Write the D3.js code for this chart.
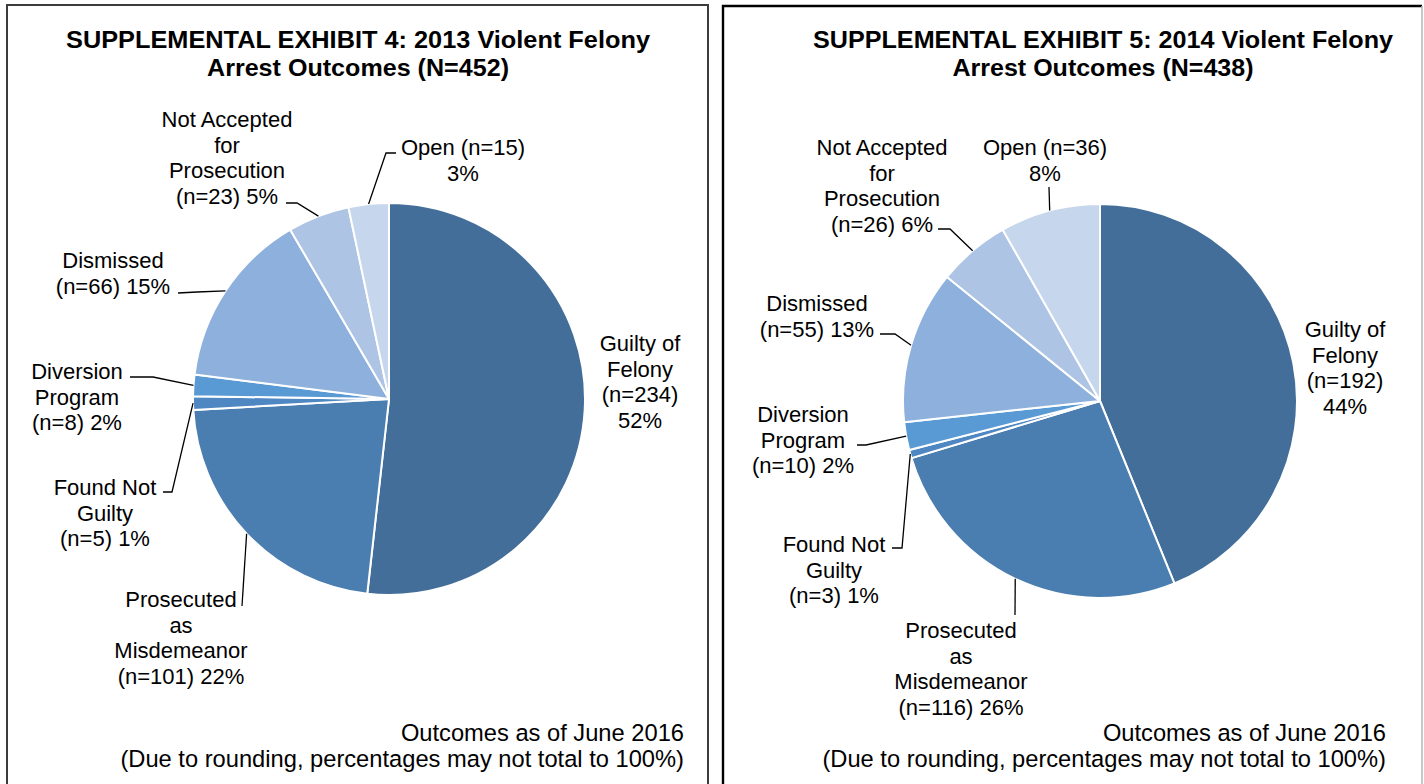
<!DOCTYPE html>
<html>
<head>
<meta charset="utf-8">
<script src="https://cdn.jsdelivr.net/npm/d3@7/dist/d3.min.js"></script>
<style>
  body { margin: 0; background: #fff; }
  text { font-family: "Liberation Sans", Arial, sans-serif; fill: #000; }
</style>
</head>
<body>
<svg id="chart" width="1424" height="784"></svg>
<script>
// Outcome categories, clockwise from 12 o'clock
const categories = ['Guilty of Felony', 'Prosecuted as Misdemeanor', 'Found Not Guilty',
  'Diversion Program', 'Dismissed', 'Not Accepted for Prosecution', 'Open'];
const labelNames = [['Guilty of', 'Felony'], ['Prosecuted', 'as', 'Misdemeanor'], ['Found Not', 'Guilty'],
  ['Diversion', 'Program'], ['Dismissed'], ['Not Accepted', 'for', 'Prosecution'], ['Open']];
const counts2013 = [234, 101, 5, 8, 66, 23, 15];
const counts2014 = [192, 116, 3, 10, 55, 26, 36];
const years = [2013, 2014];
const exhibitNumbers = [4, 5];
const footnotes = ['Outcomes as of June 2016', '(Due to rounding, percentages may not total to 100%)'];
const colors = ['#426e99', '#4a7db0', '#4f87c3', '#5a9ad4', '#8db0dc', '#adc4e5', '#c6d6ec'];

// layout for each panel (label centre x, first baseline, leader bend points)
const panels = [
  {
    counts: counts2013, cx: 389, cy: 399, r: 196, titleX: 358, titleW: [584, 302], footX: 684,
    labels: [
      {x: 640, y: 351, fmt: 'sep', leader: null},
      {x: 181, y: 607, fmt: 'join', leader: [[242, 606]]},
      {x: 105, y: 495, fmt: 'join', leader: [[172, 492], [163, 492]]},
      {x: 77, y: 379, fmt: 'join', leader: [[153, 377], [130, 377]]},
      {x: 113, y: 268, fmt: 'join', leader: [[197, 292], [178, 293]]},
      {x: 227, y: 127, fmt: 'join', leader: [[297, 203], [286, 203]]},
      {x: 463, y: 155, fmt: 'open', leader: [[386, 153], [396, 153]]}
    ]
  },
  {
    counts: counts2014, cx: 1100, cy: 401, r: 197, titleX: 1103, titleW: [580, 301], footX: 1386,
    labels: [
      {x: 1345, y: 337, fmt: 'sep', leader: null},
      {x: 961, y: 638, fmt: 'join', leader: [[1015, 615]]},
      {x: 834, y: 552, fmt: 'join', leader: [[902, 548], [892, 548]]},
      {x: 803, y: 422, fmt: 'join', leader: [[866, 445], [857, 445]]},
      {x: 817, y: 311, fmt: 'join', leader: [[895, 334], [880, 334]]},
      {x: 882, y: 155, fmt: 'join', leader: [[950, 229], [938, 229]]},
      {x: 1045, y: 155, fmt: 'open', leader: [[1049, 187]]}
    ]
  }
];

const svg = d3.select('#chart');
const lineH = 25.6;

// panel frames
svg.append('path').attr('d', 'M7,784V5H708V784').attr('fill', 'none')
    .attr('stroke', '#3c3c3c').attr('stroke-width', 2);
svg.append('path').attr('d', 'M723,784V6H1422').attr('fill', 'none')
    .attr('stroke', '#000').attr('stroke-width', 2.4);
svg.append('path').attr('d', 'M1422,6V784').attr('fill', 'none')
    .attr('stroke', '#b4b4b4').attr('stroke-width', 1.5);

panels.forEach((p, pi) => {
  const total = d3.sum(p.counts);
  const g = svg.append('g');

  // title
  const titleLines = [`SUPPLEMENTAL EXHIBIT ${exhibitNumbers[pi]}: ${years[pi]} Violent Felony`,
    `Arrest Outcomes (N=${total})`];
  titleLines.forEach((t, i) => {
    g.append('text')
        .attr('x', p.titleX).attr('y', 48 + i * 28)
        .attr('text-anchor', 'middle')
        .attr('textLength', p.titleW[i])
        .attr('lengthAdjust', 'spacingAndGlyphs')
        .style('font-size', '23px').style('font-weight', 'bold')
        .text(t);
  });

  const pie = d3.pie().sort(null).value(d => d);
  const arc = d3.arc().innerRadius(0).outerRadius(p.r);
  const edge = d3.arc().innerRadius(p.r).outerRadius(p.r);
  const arcs = pie(p.counts);

  const pieG = g.append('g').attr('transform', `translate(${p.cx},${p.cy})`);
  pieG.selectAll('path')
      .data(arcs)
      .join('path')
      .attr('d', arc)
      .attr('fill', (d, i) => colors[i])
      .attr('stroke', '#fff')
      .attr('stroke-width', 2)
      .attr('stroke-linejoin', 'round');

  // leader lines from slice edge midpoint
  arcs.forEach((d, i) => {
    const lab = p.labels[i];
    if (!lab.leader) return;
    const c = edge.centroid(d);
    const pts = [[p.cx + c[0], p.cy + c[1]], ...lab.leader];
    g.append('path')
        .attr('d', d3.line()(pts))
        .attr('fill', 'none')
        .attr('stroke', '#000')
        .attr('stroke-width', 1.3);
  });

  // data labels
  arcs.forEach((d, i) => {
    const lab = p.labels[i];
    const n = p.counts[i];
    const pct = Math.round(n / total * 100) + '%';
    let lines;
    if (lab.fmt === 'sep') lines = [...labelNames[i], `(n=${n})`, pct];
    else if (lab.fmt === 'open') lines = [`${labelNames[i][0]} (n=${n})`, pct];
    else lines = [...labelNames[i], `(n=${n}) ${pct}`];
    const t = g.append('text')
        .attr('text-anchor', 'middle')
        .style('font-size', '22px');
    lines.forEach((s, k) => {
      t.append('tspan').attr('x', lab.x).attr('y', lab.y + k * lineH).text(s);
    });
  });

  // footnote
  footnotes.forEach((f, i) => {
    g.append('text')
        .attr('x', p.footX).attr('y', 741 + i * 26)
        .attr('text-anchor', 'end')
        .style('font-size', '23.7px')
        .text(f);
  });
});
</script>
</body>
</html>
